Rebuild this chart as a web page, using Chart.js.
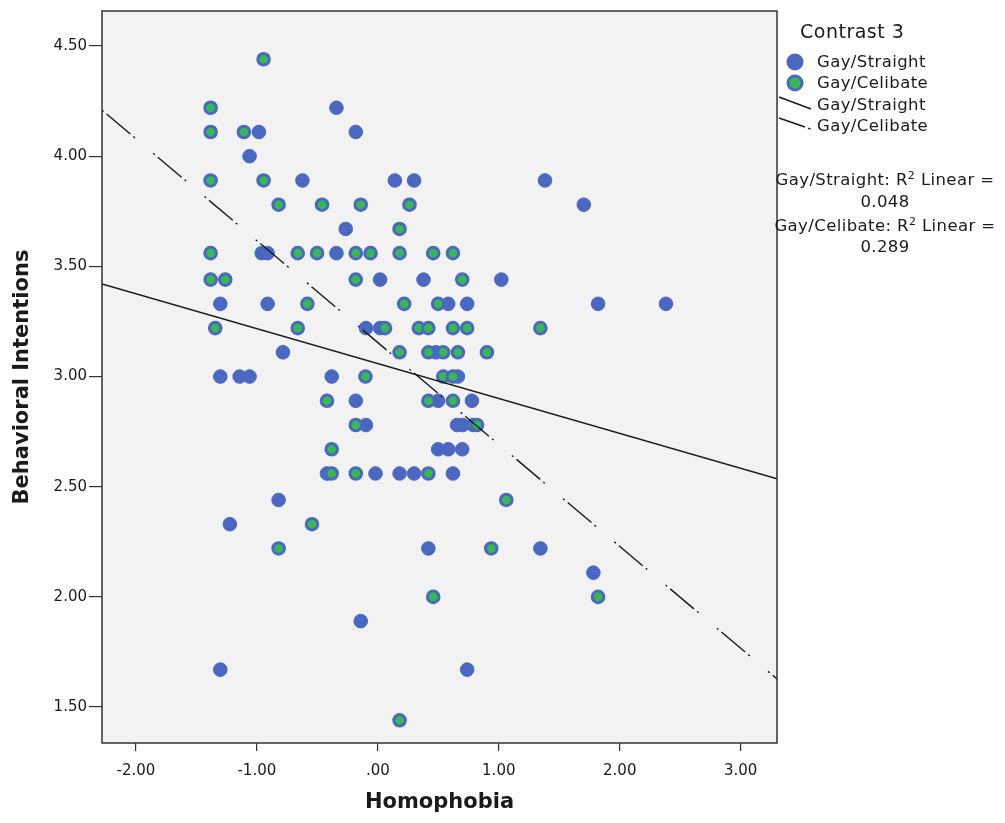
<!DOCTYPE html>
<html>
<head>
<meta charset="utf-8">
<title>Contrast 3 - Homophobia vs Behavioral Intentions</title>
<script src="https://cdn.jsdelivr.net/npm/chart.js@4.4.1/dist/chart.umd.min.js"></script>
<style>
    html, body { margin: 0; padding: 0; background: #fff; }
    #wrap { position: relative; width: 1005px; height: 823px; font-family: 'DejaVu Sans', sans-serif; color: #1a1a1a; }
    #wrap canvas { position: absolute; left: 0; top: 0; }
    #symbols { position: absolute; left: 0; top: 0; pointer-events: none; }
    .lg { position: absolute; white-space: nowrap; line-height: 20px; }
    .lg-title { font-size: 19px; letter-spacing: 0.5px; }
    .lg-item { font-size: 16.5px; letter-spacing: 0.4px; }
    .lg-r2 { font-size: 16.5px; letter-spacing: 0.4px; left: 770px; width: 230px; text-align: center; }
    .lg-r2 sup { font-size: 11px; vertical-align: 6px; line-height: 0; }
</style>
</head>
<body>
<div id="wrap">
    <canvas id="scatterChart" width="1005" height="823"></canvas>
    <svg id="symbols" width="1005" height="823"></svg>
    <div id="legend"></div>
</div>
<script>
// Gay/Straight group (blue points)
const straightX = [
    -0.342,
    -0.983, -0.182,
    -1.060,
    -0.623, 0.141, 0.300, 1.382,
    1.703,
    -0.265,
    -0.960, -0.911, -0.342,
    0.019, 0.378, 1.021,
    -1.302, -0.911, 0.582, 0.739, 1.821, 2.382,
    -0.098, 0.019,
    -0.784, 0.480,
    -1.302, -1.142, -1.060, -0.381, 0.662,
    -0.182, 0.499, 0.778,
    -0.098, 0.655, 0.700,
    0.499, 0.582, 0.698,
    -0.420, -0.019, 0.180, 0.300, 0.621,
    -0.820,
    -1.223,
    0.418, 1.344,
    1.782,
    -0.141,
    -1.302, 0.739
];
const straightY = [
    4.22,
    4.11, 4.11,
    4.00,
    3.89, 3.89, 3.89, 3.89,
    3.78,
    3.67,
    3.56, 3.56, 3.56,
    3.44, 3.44, 3.44,
    3.33, 3.33, 3.33, 3.33, 3.33, 3.33,
    3.22, 3.22,
    3.11, 3.11,
    3.00, 3.00, 3.00, 3.00, 3.00,
    2.89, 2.89, 2.89,
    2.78, 2.78, 2.78,
    2.67, 2.67, 2.67,
    2.56, 2.56, 2.56, 2.56, 2.56,
    2.44,
    2.33,
    2.22, 2.22,
    2.11,
    1.89,
    1.67, 1.67
];

// Gay/Celibate group (green points)
const celibateX = [
    -0.944,
    -1.382,
    -1.382, -1.107,
    -1.382, -0.944,
    -0.820, -0.461, -0.141, 0.262,
    0.180,
    -1.382, -0.662, -0.502, -0.182, -0.060, 0.180, 0.458, 0.621,
    -1.382, -1.261, -0.182, 0.698,
    -0.582, 0.218, 0.499,
    -1.344, -0.662, 0.060, 0.339, 0.418, 0.621, 0.739, 1.344,
    0.180, 0.418, 0.541, 0.662, 0.902,
    -0.102, 0.541, 0.621,
    -0.420, 0.418, 0.621,
    -0.182, 0.790, 0.820,
    -0.381,
    -0.381, -0.182, 0.418,
    1.062,
    -0.544,
    -0.820, 0.938,
    0.458, 1.821,
    0.180
];
const celibateY = [
    4.44,
    4.22,
    4.11, 4.11,
    3.89, 3.89,
    3.78, 3.78, 3.78, 3.78,
    3.67,
    3.56, 3.56, 3.56, 3.56, 3.56, 3.56, 3.56, 3.56,
    3.44, 3.44, 3.44, 3.44,
    3.33, 3.33, 3.33,
    3.22, 3.22, 3.22, 3.22, 3.22, 3.22, 3.22, 3.22,
    3.11, 3.11, 3.11, 3.11, 3.11,
    3.00, 3.00, 3.00,
    2.89, 2.89, 2.89,
    2.78, 2.78, 2.78,
    2.67,
    2.56, 2.56, 2.56,
    2.44,
    2.33,
    2.22, 2.22,
    2.00, 2.00,
    1.44
];

// Linear fit lines, read at the two edges of the plot
const fitX = [-2.28, 3.30];
const straightFitY = [3.42, 2.536];
const celibateFitY = [4.209, 1.628];

// Axes
const xRange = [-2.28, 3.30];
const yRange = [1.337, 4.659];
const xTicks = [-2, -1, 0, 1, 2, 3];
const xTickLabels = ['-2.00', '-1.00', '.00', '1.00', '2.00', '3.00'];
const yTicks = [1.5, 2, 2.5, 3, 3.5, 4, 4.5];
const yTickLabels = ['1.50', '2.00', '2.50', '3.00', '3.50', '4.00', '4.50'];

// Legend
const legendTitle = 'Contrast 3';
const seriesNames = ['Gay/Straight', 'Gay/Celibate'];
const r2Values = ['0.048', '0.289'];

const BLUE = '#4a68c2';
const GREEN = '#36b950';
const INK = '#1a1a1a';

function toPoints(xs, ys) {
    return xs.map((x, i) => ({ x: x, y: ys[i] }));
}

// Grey plot background and the dark frame round it
const plotFrame = {
    id: 'plotFrame',
    beforeDraw(chart) {
        const { ctx, chartArea: a } = chart;
        ctx.save();
        ctx.fillStyle = '#f2f2f2';
        ctx.fillRect(a.left, a.top, a.right - a.left, a.bottom - a.top);
        ctx.restore();
    },
    afterDraw(chart) {
        const { ctx, chartArea: a } = chart;
        ctx.save();
        ctx.strokeStyle = '#333';
        ctx.lineWidth = 1.5;
        ctx.strokeRect(a.left, a.top, a.right - a.left, a.bottom - a.top);
        ctx.restore();
    }
};

function initChart() {
    const ctx = document.getElementById('scatterChart').getContext('2d');
    return new Chart(ctx, {
        type: 'scatter',
        data: {
            datasets: [{
                label: seriesNames[0] + ' fit',
                data: toPoints(fitX, straightFitY),
                showLine: true,
                borderColor: INK,
                borderWidth: 1.4,
                pointRadius: 0,
                order: 0
            }, {
                label: seriesNames[1] + ' fit',
                data: toPoints(fitX, celibateFitY),
                showLine: true,
                borderColor: INK,
                borderWidth: 1.4,
                borderDash: [2, 4, 31, 4, 2, 24],
                pointRadius: 0,
                order: 0
            }, {
                label: seriesNames[1],
                data: toPoints(celibateX, celibateY),
                backgroundColor: GREEN,
                borderColor: BLUE,
                borderWidth: 3,
                pointRadius: 5.8,
                order: 1
            }, {
                label: seriesNames[0],
                data: toPoints(straightX, straightY),
                backgroundColor: BLUE,
                borderColor: BLUE,
                borderWidth: 1,
                pointRadius: 6.8,
                order: 2
            }]
        },
        options: {
            responsive: false,
            animation: false,
            events: [],
            layout: { padding: { top: 10, right: 228, left: 0, bottom: 0 } },
            plugins: {
                legend: { display: false },
                tooltip: { enabled: false }
            },
            scales: {
                x: {
                    type: 'linear',
                    min: xRange[0],
                    max: xRange[1],
                    afterFit(scale) { scale.height = 80; },
                    afterBuildTicks(scale) { scale.ticks = xTicks.map(v => ({ value: v })); },
                    border: { display: false },
                    grid: { drawOnChartArea: false, drawTicks: true, tickLength: 8, color: '#333', lineWidth: 1.2 },
                    ticks: {
                        padding: 11,
                        color: INK,
                        font: { family: 'DejaVu Sans', size: 15 },
                        maxRotation: 0,
                        callback: (v, i) => xTickLabels[i]
                    },
                    title: {
                        display: true,
                        text: 'Homophobia',
                        color: INK,
                        font: { family: 'DejaVu Sans', size: 21, weight: 'bold' },
                        padding: { top: 0, bottom: 8 }
                    }
                },
                y: {
                    type: 'linear',
                    min: yRange[0],
                    max: yRange[1],
                    afterFit(scale) { scale.width = 102; },
                    afterBuildTicks(scale) { scale.ticks = yTicks.map(v => ({ value: v })); },
                    border: { display: false },
                    grid: { drawOnChartArea: false, drawTicks: true, tickLength: 13, color: '#333', lineWidth: 1.2 },
                    ticks: {
                        padding: 2,
                        color: INK,
                        font: { family: 'DejaVu Sans', size: 15 },
                        callback: (v, i) => yTickLabels[i]
                    },
                    title: {
                        display: true,
                        text: 'Behavioral Intentions',
                        color: INK,
                        font: { family: 'DejaVu Sans', size: 21, weight: 'bold' },
                        padding: { top: 10, bottom: 0 }
                    }
                }
            }
        },
        plugins: [plotFrame]
    });
}

// Legend on the right: markers, fit lines and R2 notes
function buildLegend() {
    const svg = document.getElementById('symbols');
    svg.innerHTML = `
        <circle cx="795" cy="62" r="8.5" fill="${BLUE}"/>
        <circle cx="795" cy="83" r="7" fill="${GREEN}" stroke="${BLUE}" stroke-width="3"/>
        <line x1="779" y1="97" x2="811" y2="109" stroke="${INK}" stroke-width="1.4"/>
        <line x1="779" y1="118" x2="805" y2="127" stroke="${INK}" stroke-width="1.4"/>
        <line x1="808" y1="128.2" x2="810.5" y2="129.1" stroke="${INK}" stroke-width="1.4"/>`;

    const legend = document.getElementById('legend');
    legend.innerHTML = `
        <div class="lg lg-title" style="left:800px; top:21px;">${legendTitle}</div>
        <div class="lg lg-item" style="left:817px; top:52px;">${seriesNames[0]}</div>
        <div class="lg lg-item" style="left:817px; top:73px;">${seriesNames[1]}</div>
        <div class="lg lg-item" style="left:817px; top:95px;">${seriesNames[0]}</div>
        <div class="lg lg-item" style="left:817px; top:116px;">${seriesNames[1]}</div>
        <div class="lg lg-r2" style="top:170px;">${seriesNames[0]}: R<sup>2</sup> Linear =</div>
        <div class="lg lg-r2" style="top:192px;">${r2Values[0]}</div>
        <div class="lg lg-r2" style="top:216px;">${seriesNames[1]}: R<sup>2</sup> Linear =</div>
        <div class="lg lg-r2" style="top:237px;">${r2Values[1]}</div>`;
}

document.addEventListener('DOMContentLoaded', () => {
    initChart();
    buildLegend();
});
</script>
</body>
</html>
